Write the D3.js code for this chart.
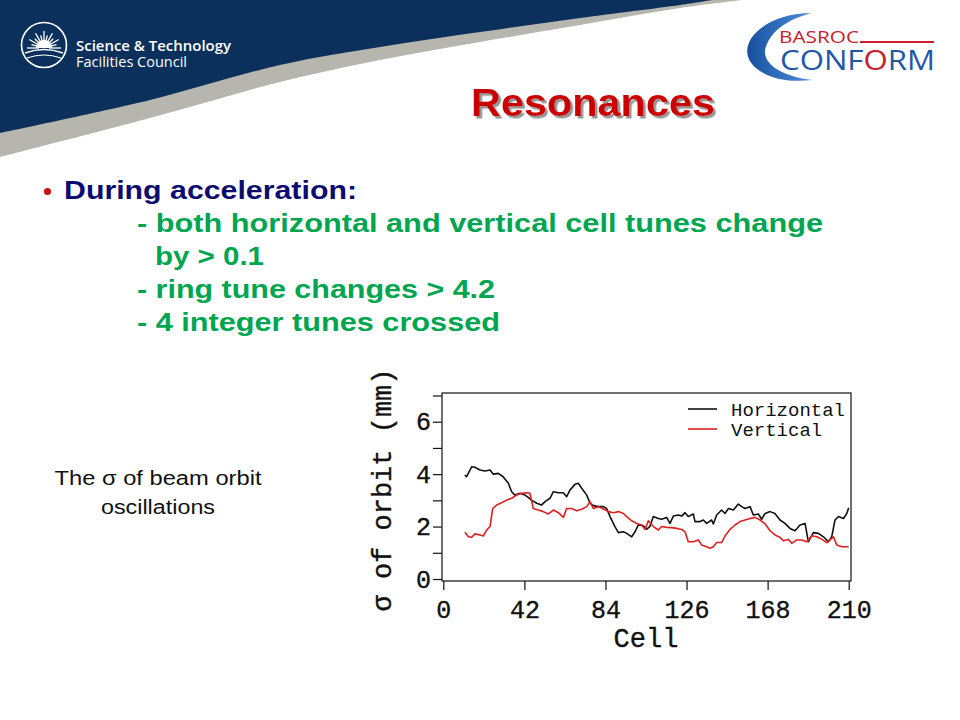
<!DOCTYPE html>
<html>
<head>
<meta charset="utf-8">
<script src="https://cdn.jsdelivr.net/npm/d3@7"></script>
<style>
  html, body { margin: 0; padding: 0; background: #fff; }
  svg { display: block; }
</style>
</head>
<body>
<svg id="slide" width="960" height="720"></svg>
<script>
// series: [cell, sigma in mm]
const horizontal = [
  [11.2,3.97],[12,3.9],[14.7,4.28],[16.4,4.26],[19,4.16],[21.6,4.12],[24.2,4.16],[25.9,4.0],
  [28.5,4.03],[31,3.9],[33.7,3.65],[35.4,3.33],[37.1,3.2],[39.7,3.27],[42.3,3.2],[44,3.11],
  [45.8,3.0],[48.4,2.89],[50.9,2.82],[52.7,2.95],[55.3,3.08],[57,3.33],[59.6,3.29],[62.2,3.29],
  [63.9,3.14],[65.6,3.39],[68.2,3.61],[69.9,3.65],[71.7,3.46],[74.3,3.2],[76,2.89],[77.7,2.8],
  [80.3,2.76],[82.9,2.76],[84.6,2.69],[86.4,2.38],[88.9,2.0],[90.7,1.77],[93.3,1.8],[95,1.74],
  [97.6,1.61],[99.3,1.8],[101,2.06],[103.6,2.03],[105.4,1.9],[107,2.0],[108.8,2.38],[111.4,2.31],
  [113.1,2.28],[115.7,2.35],[117.4,2.12],[119.2,2.4],[121.8,2.44],[123.5,2.4],[125.2,2.53],[126.9,2.38],
  [129.5,2.48],[130.4,2.19],[133,2.19],[134.7,2.25],[136.4,2.12],[139,2.25],[139.9,2.1],[141.6,2.44],
  [144.2,2.63],[145.9,2.5],[147.7,2.69],[150.3,2.63],[152.8,2.86],[154.6,2.76],[156.3,2.69],[158.9,2.76],
  [160.6,2.44],[163.2,2.48],[164.9,2.28],[166.7,2.5],[169.3,2.57],[171.8,2.5],[174.4,2.25],[177,2.12],
  [179.6,1.93],[182.2,1.84],[184.8,2.06],[187.4,2.12],[189.1,1.42],[191.7,1.77],[194.3,1.74],[196.9,1.61],
  [199.5,1.42],[201.2,1.61],[202.9,2.25],[204.7,2.38],[207.3,2.31],[209,2.5],[210,2.72]
];
const vertical = [
  [11.2,1.78],[13,1.61],[14.7,1.59],[16.4,1.72],[19,1.68],[20.7,1.64],[22.5,1.87],[24.2,2.0],
  [25.6,2.69],[27.6,2.82],[30.2,2.91],[32.8,3.01],[35.4,3.08],[38,3.2],[40.6,3.27],[43.2,3.29],
  [44.9,3.27],[46.6,2.69],[49.2,2.63],[51.8,2.57],[54.4,2.48],[57,2.63],[59.6,2.53],[62.2,2.35],
  [63.9,2.69],[66.5,2.69],[69.1,2.6],[71.7,2.66],[74.3,2.76],[76,2.95],[77.7,2.69],[80.3,2.76],
  [82.9,2.67],[85.5,2.57],[88.1,2.53],[90.7,2.57],[93.3,2.5],[95,2.38],[97.6,2.22],[100.2,2.12],
  [102.8,2.06],[104.5,1.89],[106.2,2.22],[108.8,2.0],[111.4,1.87],[113.1,2.0],[115.7,1.97],[118.3,1.96],
  [120.9,1.93],[123.5,1.89],[125.2,1.8],[126.9,1.42],[129.5,1.42],[132.1,1.49],[133.8,1.3],[136.4,1.23],
  [138.2,1.17],[139.9,1.23],[141.6,1.39],[144.2,1.39],[145.9,1.64],[148.5,1.89],[151.1,2.06],[153.7,2.19],
  [156.3,2.25],[158.9,2.31],[161.5,2.35],[164.1,2.25],[166.7,2.1],[169.3,1.84],[171.8,1.68],[174.4,1.59],
  [176.2,1.46],[178.8,1.51],[180.5,1.36],[183.1,1.49],[185.7,1.49],[188.3,1.42],[190.9,1.65],[193.5,1.61],
  [196.1,1.51],[198.7,1.39],[200.3,1.49],[202.1,1.61],[203.8,1.3],[206.4,1.23],[210,1.23]
];
const xTicks = [0, 42, 84, 126, 168, 210];
const yTicks = [0, 1, 2, 3, 4, 5, 6, 7];
const seriesNames = ['Horizontal', 'Vertical'];
const seriesColors = ['#111111', '#dd2020'];

const bulletLines = [
  '- both horizontal and vertical cell tunes change',
  'by > 0.1',
  '- ring tune changes > 4.2',
  '- 4 integer tunes crossed'
];
const captionLines = ['The σ of beam orbit', 'oscillations'];

const svg = d3.select('#slide');
const defs = svg.append('defs');

/* header band */
const curve = d3.line().curve(d3.curveCatmullRom);
const greyEdge = [[0,157],[150,118],[280,82],[380,60],[480,42],[580,25],[680,8],[742,0]];
const navyEdge = [[0,133],[150,100],[280,65],[380,47],[480,32],[580,18],[680,5],[712,0]];
svg.append('path')
  .attr('d', 'M0,0 L742,0 ' + curve(greyEdge.slice().reverse()).replace('M', 'L') + ' Z')
  .attr('fill', '#b6b6ae');
svg.append('path')
  .attr('d', 'M0,0 L712,0 ' + curve(navyEdge.slice().reverse()).replace('M', 'L') + ' Z')
  .attr('fill', '#0b305c');

/* STFC logo */
const stfc = svg.append('g').attr('transform', 'translate(44,45)');
stfc.append('circle').attr('r', 22.5).attr('fill', 'none').attr('stroke', '#fff').attr('stroke-width', 1.6);
for (let i = 0; i <= 12; i++) {
  const a = Math.PI + (i / 12) * Math.PI;
  const r1 = 5, r2 = i % 2 ? 13 : 17;
  stfc.append('line')
    .attr('x1', Math.cos(a) * r1).attr('y1', 3 + Math.sin(a) * r1)
    .attr('x2', Math.cos(a) * r2).attr('y2', 3 + Math.sin(a) * r2)
    .attr('stroke', '#fff').attr('stroke-width', 1.3);
}
stfc.append('path').attr('d', 'M-8,3 A8,8 0 0 1 8,3 Z').attr('fill', '#fff');
stfc.append('path').attr('d', 'M-19,8 Q0,1 19,8').attr('fill', 'none').attr('stroke', '#fff').attr('stroke-width', 1.6);
stfc.append('path').attr('d', 'M-17,13 Q0,7 17,13').attr('fill', 'none').attr('stroke', '#fff').attr('stroke-width', 1.2);

svg.append('text')
  .attr('x', 76).attr('y', 51)
  .attr('font-family', '"Open Sans", sans-serif').attr('font-weight', 600).attr('font-size', 15)
  .attr('fill', '#fff').attr('textLength', 155).attr('lengthAdjust', 'spacingAndGlyphs')
  .text('Science & Technology');
svg.append('text')
  .attr('x', 76).attr('y', 67)
  .attr('font-family', '"Open Sans", sans-serif').attr('font-size', 14)
  .attr('fill', '#fff').attr('textLength', 111).attr('lengthAdjust', 'spacingAndGlyphs')
  .text('Facilities Council');

/* BASROC CONFORM logo */
const grad = defs.append('linearGradient').attr('id', 'cres')
  .attr('x1', 0).attr('x2', 1).attr('y1', 0).attr('y2', 0);
grad.append('stop').attr('offset', '0%').attr('stop-color', '#174f9e');
grad.append('stop').attr('offset', '100%').attr('stop-color', '#4f8fdc');
svg.append('path')
  .attr('d', 'M812,13 C760,13 728,50 760,71 C775,81 795,82 812,80 C780,76 758,62 767,44 C774,27 795,17 812,13 Z')
  .attr('fill', 'url(#cres)');
svg.append('text')
  .attr('x', 779).attr('y', 43)
  .attr('font-family', '"Open Sans", sans-serif').attr('font-size', 17)
  .attr('fill', '#c8202e').attr('textLength', 80).attr('lengthAdjust', 'spacingAndGlyphs')
  .text('BASROC');
svg.append('line')
  .attr('x1', 860).attr('x2', 934).attr('y1', 42).attr('y2', 42)
  .attr('stroke', '#c8202e').attr('stroke-width', 2.2);
svg.append('text')
  .attr('x', 780).attr('y', 70)
  .attr('font-family', '"Open Sans", sans-serif').attr('font-size', 27)
  .attr('fill', '#1f57a8').attr('textLength', 155).attr('lengthAdjust', 'spacingAndGlyphs')
  .call(t => {
    t.append('tspan').text('CONF');
    t.append('tspan').attr('fill', '#c8202e').text('O');
    t.append('tspan').text('RM');
  });

/* title with drop shadow */
const shadow = defs.append('filter').attr('id', 'shadow')
  .attr('x', '-5%').attr('y', '-20%').attr('width', '115%').attr('height', '150%');
shadow.append('feDropShadow')
  .attr('dx', 2.5).attr('dy', 2.5).attr('stdDeviation', 0.6)
  .attr('flood-color', '#8a8a8a').attr('flood-opacity', 0.9);
svg.append('text')
  .attr('x', 471).attr('y', 116)
  .attr('font-family', '"Liberation Sans", Arial, sans-serif').attr('font-weight', 'bold')
  .attr('font-size', 38).attr('textLength', 244).attr('lengthAdjust', 'spacingAndGlyphs')
  .attr('fill', '#cc0000').attr('filter', 'url(#shadow)')
  .text('Resonances');

/* bullets */
svg.append('circle').attr('cx', 47.5).attr('cy', 191.5).attr('r', 3.6).attr('fill', '#cc1010');
svg.append('text')
  .attr('x', 64).attr('y', 199)
  .attr('font-family', '"Liberation Sans", Arial, sans-serif').attr('font-weight', 'bold')
  .attr('font-size', 25).attr('fill', '#0c0c70')
  .attr('textLength', 293).attr('lengthAdjust', 'spacingAndGlyphs')
  .text('During acceleration:');
const lineX = [137, 155, 137, 137];
const lineW = [686, 109, 358, 363];
svg.append('g').selectAll('text')
  .data(bulletLines)
  .join('text')
  .attr('x', (d, i) => lineX[i])
  .attr('y', (d, i) => 232 + i * 33)
  .attr('font-family', '"Liberation Sans", Arial, sans-serif').attr('font-weight', 'bold')
  .attr('font-size', 25).attr('fill', '#00a550')
  .attr('textLength', (d, i) => lineW[i]).attr('lengthAdjust', 'spacingAndGlyphs')
  .text(d => d);

/* caption */
const captionW = [207, 114];
svg.append('g').selectAll('text')
  .data(captionLines)
  .join('text')
  .attr('x', 158)
  .attr('y', (d, i) => 485 + i * 29)
  .attr('text-anchor', 'middle')
  .attr('font-family', '"Liberation Sans", Arial, sans-serif')
  .attr('font-size', 20).attr('fill', '#111')
  .attr('textLength', (d, i) => captionW[i]).attr('lengthAdjust', 'spacingAndGlyphs')
  .text(d => d);

/* chart */
const mono = '"Liberation Mono", "DejaVu Sans Mono", monospace';
const frame = { left: 442, right: 851, top: 393, bottom: 581 };

const x = d3.scaleLinear().domain([0, 210]).range([443.3, 848.7]);
const y = d3.scaleLinear().domain([0, 6]).range([579, 421.7]);

const chart = svg.append('g');

chart.append('rect')
  .attr('x', frame.left).attr('y', frame.top)
  .attr('width', frame.right - frame.left).attr('height', frame.bottom - frame.top)
  .attr('fill', '#fff').attr('stroke', '#111').attr('stroke-width', 1.2);

const xAxis = d3.axisBottom(x).tickValues(xTicks).tickSize(9).tickPadding(10);
const yAxis = d3.axisLeft(y).tickValues(yTicks).tickSize(9).tickPadding(2)
  .tickFormat(d => (d % 2 === 0 ? d : ''));

const monoText = sel => sel
  .attr('font-family', mono).attr('fill', '#111')
  .attr('stroke', '#111').attr('stroke-width', 0.35);

chart.append('g')
  .attr('transform', `translate(0,${frame.bottom})`)
  .call(xAxis)
  .call(g => g.select('.domain').remove())
  .call(g => g.selectAll('line').attr('stroke', '#111').attr('stroke-width', 1.2))
  .call(g => g.selectAll('text').call(monoText).attr('font-size', 25));

chart.append('g')
  .attr('transform', `translate(${frame.left},0)`)
  .call(yAxis)
  .call(g => g.select('.domain').remove())
  .call(g => g.selectAll('line').attr('stroke', '#111').attr('stroke-width', 1.2))
  .call(g => g.selectAll('text').call(monoText).attr('font-size', 25));

const line = d3.line()
  .x(d => x(d[0]))
  .y(d => y(d[1]));

[horizontal, vertical].forEach((s, i) => {
  chart.append('path')
    .datum(s)
    .attr('fill', 'none')
    .attr('stroke', seriesColors[i])
    .attr('stroke-width', 1.6)
    .attr('stroke-linejoin', 'round')
    .attr('d', line);
});

/* legend */
const legend = chart.append('g')
  .selectAll('g')
  .data(seriesNames)
  .join('g')
  .attr('transform', (d, i) => `translate(688,${409 + i * 20})`);
legend.append('line')
  .attr('x1', 0).attr('x2', 29)
  .attr('stroke', (d, i) => seriesColors[i]).attr('stroke-width', 1.6);
legend.append('text')
  .attr('x', 43).attr('dy', '0.35em')
  .attr('font-family', mono).attr('font-size', 19).attr('fill', '#111')
  .text(d => d);

/* axis titles */
chart.append('text')
  .attr('x', 646).attr('y', 647)
  .attr('text-anchor', 'middle')
  .call(monoText).attr('font-size', 27)
  .text('Cell');
chart.append('text')
  .attr('transform', 'translate(391,490) rotate(-90)')
  .attr('text-anchor', 'middle')
  .call(monoText).attr('font-size', 27)
  .text('σ of orbit (mm)');
</script>
</body>
</html>
